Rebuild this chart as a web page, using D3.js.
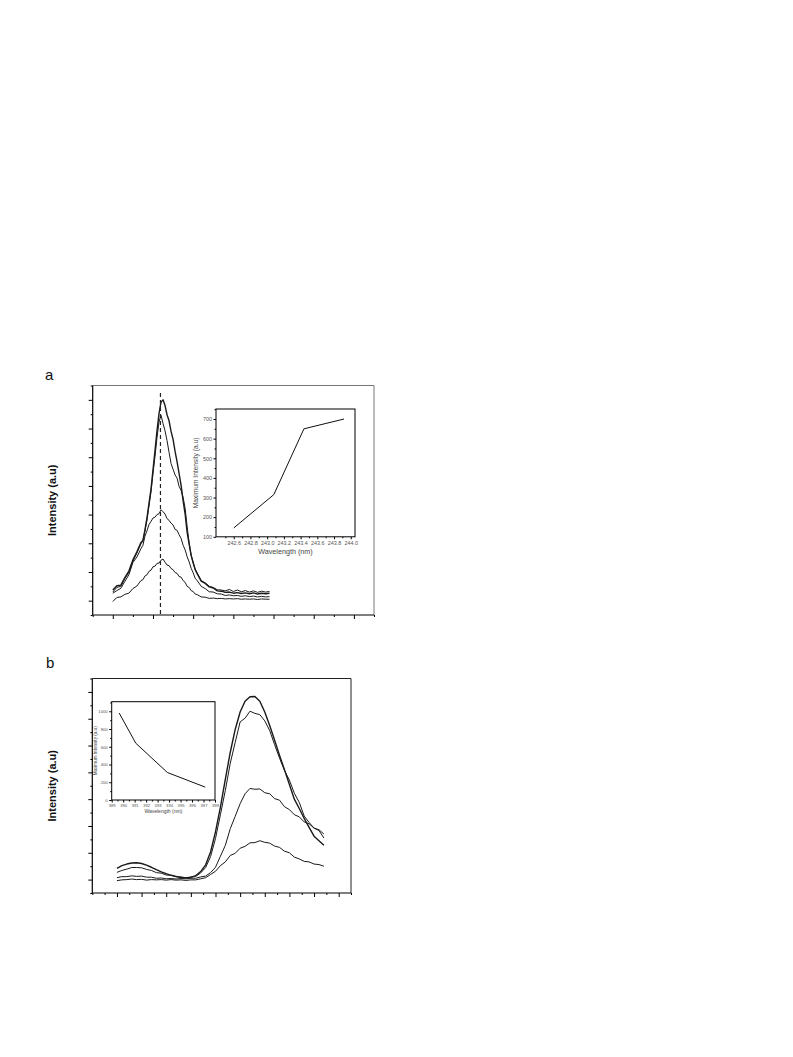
<!DOCTYPE html>
<html><head><meta charset="utf-8">
<script src="https://cdn.jsdelivr.net/npm/d3@7"></script>
<style>body{margin:0;background:#fff}svg{display:block}text{font-family:"Liberation Sans",Arial,sans-serif}</style>
</head><body><script>
// ---------- Panel a : spectra ----------
const waveA = [231,232,233,234,235,236,237,238,238.5,239,239.5,240,240.5,241,241.5,242,242.5,243,243.5,244,244.5,245,245.5,246,246.5,247,247.5,248,248.5,249,249.5,250,250.5,251,251.5,252,253,254,255,256,257,258,259,260,261,262,263,264,265,266,267,268,269,270];
const specA1 = [37,52,54,80,103,142,170,203,210,247,288,338,388,455,522,592,652,692,700,680,648,627,590,562,520,484,443,402,348,302,238,197,158,132,108,94,68,60,48,44,34,33,29,30,26,28,25,27,24,27,23,26,24,26];
const specA2 = [30,46,50,77,98,137,166,198,208,243,280,330,378,443,503,568,623,646,618,592,558,517,478,458,438,427,398,384,360,322,258,202,158,132,110,97,70,62,50,46,38,37,34,39,32,37,31,35,30,34,29,33,30,32];
const specA3 = [26,35,43,67,90,133,152,181,193,225,243,265,276,288,291,300,303,317,310,302,286,280,270,264,248,245,230,217,193,177,153,135,113,97,78,70,50,42,31,30,24,23,18,20,17,18,15,17,14,16,13,15,13,14];
const specA4 = [-3,11,13,22,26,42,51,70,73,86,90,102,106,118,120,130,131,141,145,134,124,122,112,108,98,95,84,82,70,64,50,46,35,32,23,21,13,12,8,9,7,8,6,7,6,7,5,6,5,6,4,6,5,5];
const peakLineA = 242.86;

// inset a
const insetWaveA = [242.6, 243.08, 243.44, 243.92];
const insetMaxA = [145, 315, 650, 700];
const insetAxTicksX = [242.6,242.8,243.0,243.2,243.4,243.6,243.8,244.0];
const insetAxTicksY = [100,200,300,400,500,600,700];

// ---------- Panel b : spectra ----------
const waveB = [320,324,328,332,336,340,344,348,352,356,360,364,368,372,376,380,384,388,392,396,400,404,408,412,416,420,424,428,432,436,440,444,448,452,456,460,464,468,472,476,480,484,488];
const specB1 = [42,52,58,62,63,60,54,46,37,29,22,16,12,8,7,8,15,30,55,103,178,270,375,475,560,625,665,682,683,665,625,575,520,463,410,355,300,265,228,195,162,145,128];
const specB2 = [27,34,39,45,45,44,38,34,26,24,17,16,10,10,7,10,12,25,45,86,153,242,333,434,512,588,602,628,620,615,592,556,503,453,407,371,322,288,237,213,192,186,170];
const specB3 = [7,11,11,14,12,13,9,9,5,6,3,4,2,4,3,5,5,10,13,26,46,87,128,190,236,283,320,340,337,338,324,320,302,296,272,261,242,234,215,208,192,183,155];
const specB4 = [-4,-1,0,2,0,1,-2,0,-1,0,-2,0,-2,-1,-3,-1,-1,3,7,19,31,52,66,90,98,117,124,137,138,145,139,136,125,120,106,100,84,77,68,66,58,56,50];

// inset b
const insetWaveB = [389.65, 391.1, 393.85, 397.15];
const insetMaxB = [980, 640, 310, 145];
const insetBxTicks = [389,390,391,392,393,394,395,396,397,398];
const insetByTicks = [0,200,400,600,800,1000];

const svg = d3.select("body").append("svg").attr("width",793).attr("height",1057);
svg.append("rect").attr("width",793).attr("height",1057).attr("fill","#fff");

function ticksAxis(g, axisFn, scale, vals, size, transform){
  const a = g.append("g").attr("transform",transform)
    .call(axisFn(scale).tickValues(vals).tickSize(size).tickFormat(""));
  a.select(".domain").remove();
  a.selectAll("line").attr("stroke","#000").attr("stroke-width",1);
  return a;
}

function mainPanel(opt){
  const g = svg.append("g");
  const x = d3.scaleLinear(opt.xd, [opt.l, opt.r]);
  const y = d3.scaleLinear(opt.yd, [opt.b, opt.t]);
  const xt = d3.range(opt.xd[0], opt.xd[1]+0.001, opt.xstep);
  const yt = d3.range(opt.yd[0], opt.yd[1]+0.001, 50);
  ticksAxis(g, d3.axisBottom, x, xt.filter(opt.xMajor), 4, `translate(0,${opt.b})`);
  ticksAxis(g, d3.axisBottom, x, xt.filter(v=>!opt.xMajor(v)), 2, `translate(0,${opt.b})`);
  ticksAxis(g, d3.axisLeft, y, yt.filter(v=>v%100===0), 4, `translate(${opt.l},0)`);
  ticksAxis(g, d3.axisLeft, y, yt.filter(v=>v%100!==0), 2, `translate(${opt.l},0)`);
  g.append("line").attr("x1",opt.l).attr("x2",opt.r).attr("y1",opt.t).attr("y2",opt.t).attr("stroke",opt.frameCol).attr("stroke-width",1);
  g.append("line").attr("x1",opt.r).attr("x2",opt.r).attr("y1",opt.t).attr("y2",opt.b).attr("stroke",opt.frameCol).attr("stroke-width",1);
  g.append("line").attr("x1",opt.l).attr("x2",opt.r).attr("y1",opt.b).attr("y2",opt.b).attr("stroke","#000").attr("stroke-width",1.2);
  g.append("line").attr("x1",opt.l).attr("x2",opt.l).attr("y1",opt.t).attr("y2",opt.b).attr("stroke","#000").attr("stroke-width",1.2);
  const line = d3.line().x((d,i)=>x(opt.wave[i])).y(d=>y(d));
  opt.series.forEach((s,i)=>{
    g.append("path").attr("d",line(s)).attr("fill","none").attr("stroke","#1a1a1a")
      .attr("stroke-width", i===0?1.4:1).attr("stroke-linejoin","round");
  });
  g.append("text").attr("x",opt.labX).attr("y",opt.labY).attr("font-size",15).attr("fill","#111").text(opt.letter);
  g.append("text").attr("transform",`translate(${opt.yTitleX},${(opt.t+opt.b)/2}) rotate(-90)`)
    .attr("text-anchor","middle").attr("font-size",11).attr("font-weight","bold").attr("fill","#111").text("Intensity (a.u)");
  return {g,x,y};
}

function inset(opt){
  const g = svg.append("g");
  const x = d3.scaleLinear(opt.xd,[opt.l,opt.r]);
  const y = d3.scaleLinear(opt.yd,[opt.b,opt.t]);
  g.append("rect").attr("x",opt.l).attr("y",opt.t).attr("width",opt.r-opt.l).attr("height",opt.b-opt.t)
    .attr("fill","#fff").attr("stroke","#000").attr("stroke-width",1);
  const ax = g.append("g").attr("transform",`translate(0,${opt.b})`)
    .call(d3.axisBottom(x).tickValues(opt.xt).tickSize(2.5).tickPadding(2).tickFormat(opt.xf));
  ax.append("g").call(d3.axisBottom(x).tickValues(opt.xminor).tickSize(1.5).tickFormat(""));
  const ay = g.append("g").attr("transform",`translate(${opt.l},0)`)
    .call(d3.axisLeft(y).tickValues(opt.yt).tickSize(2.5).tickPadding(1.5).tickFormat(d3.format("d")));
  ay.append("g").call(d3.axisLeft(y).tickValues(opt.yminor).tickSize(1.5).tickFormat(""));
  g.selectAll(".domain").remove();
  g.selectAll(".tick text").attr("font-family","Liberation Sans, Arial, sans-serif").attr("font-size",opt.fs).attr("fill","#555");
  g.selectAll(".tick line").attr("stroke","#000");
  const line = d3.line().x((d,i)=>x(opt.wave[i])).y(d=>y(d));
  g.append("path").attr("d",line(opt.vals)).attr("fill","none").attr("stroke","#111").attr("stroke-width",1);
  g.append("text").attr("x",(opt.l+opt.r)/2).attr("y",opt.xlabY).attr("text-anchor","middle")
    .attr("font-size",opt.lfs).attr("fill","#444").text("Wavelength (nm)");
  g.append("text").attr("transform",`translate(${opt.ylabX},${(opt.t+opt.b)/2}) rotate(-90)`)
    .attr("text-anchor","middle").attr("font-size",opt.lfs*0.92).attr("fill","#444").text("Maximum Intensity (a.u)");
}

// Panel a
const pa = mainPanel({xd:[226,296], xstep:5, xMajor:v=>((v-231)%10===0), yd:[-50,750],
  l:92.7, r:374, t:385.5, b:615, frameCol:"#777",
  wave:waveA, series:[specA1,specA2,specA3,specA4],
  letter:"a", labX:45, labY:380, yTitleX:56});
pa.g.append("line").attr("x1",pa.x(peakLineA)).attr("x2",pa.x(peakLineA))
  .attr("y1",393).attr("y2",615).attr("stroke","#222").attr("stroke-width",1.2).attr("stroke-dasharray","4,3");

inset({xd:[242.388,244.051], yd:[100,751], l:216, r:355, t:409, b:536.8,
  xt:insetAxTicksX, xminor:[242.5,242.7,242.9,243.1,243.3,243.5,243.7,243.9],
  xf:d3.format(".1f"),
  yt:insetAxTicksY, yminor:[150,250,350,450,550,650,750],
  wave:insetWaveA, vals:insetMaxA, fs:5.4, lfs:7.2, xlabY:554, ylabX:198});

// Panel b
const pb = mainPanel({xd:[300,510], xstep:10, xMajor:v=>((v-300)%20===0 && v!==300), yd:[-50,750],
  l:92.3, r:351, t:678.5, b:893, frameCol:"#222",
  wave:waveB, series:[specB1,specB2,specB3,specB4],
  letter:"b", labX:46, labY:668, yTitleX:56});

inset({xd:[389,398], yd:[0,1108], l:111.7, r:215, t:701.7, b:800,
  xt:insetBxTicks, xminor:[389.5,390.5,391.5,392.5,393.5,394.5,395.5,396.5,397.5],
  xf:d3.format("d"),
  yt:insetByTicks, yminor:[100,300,500,700,900,1100],
  wave:insetWaveB, vals:insetMaxB, fs:4.2, lfs:5, xlabY:813, ylabX:97});
</script></body></html>
